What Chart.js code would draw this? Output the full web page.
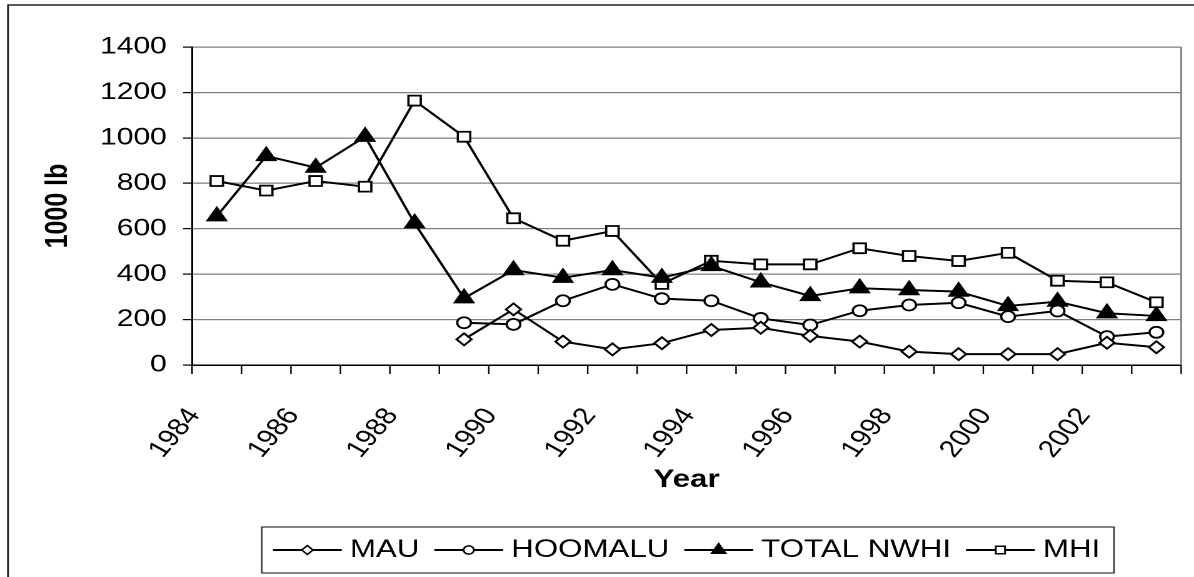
<!DOCTYPE html>
<html>
<head>
<meta charset="utf-8">
<title>Catch by area</title>
<script src="https://cdn.jsdelivr.net/npm/chart.js@4.4.1/dist/chart.umd.min.js"></script>
<style>
  html, body { margin: 0; padding: 0; background: #fff; overflow: hidden; }
  /* the reference picture is stretched sideways, so the chart is drawn narrow and scaled */
  #wrap { position: relative; width: 955px; height: 577px; transform: scaleX(1.2503); transform-origin: 0 0; }
</style>
</head>
<body>
<div id="wrap"><canvas id="catchChart"></canvas></div>
<script>
// Values (1000 lb)
const years = ['1984', '1985', '1986', '1987', '1988', '1989', '1990', '1991', '1992', '1993',
               '1994', '1995', '1996', '1997', '1998', '1999', '2000', '2001', '2002', '2003'];
const mau       = [null, null, null, null, null, 113, 245, 103, 69, 96, 154, 164, 128, 103, 59, 48, 48, 48, 98, 78];
const hoomalu   = [null, null, null, null, null, 186, 179, 283, 355, 292, 283, 205, 176, 239, 264, 274, 213, 238, 125, 144];
const totalNwhi = [655, 920, 869, 1005, 624, 294, 418, 384, 418, 384, 436, 364, 304, 338, 330, 323, 260, 279, 228, 216];
const mhi       = [810, 768, 810, 785, 1164, 1005, 646, 547, 590, 357, 459, 443, 443, 514, 480, 458, 494, 371, 364, 276];
const seriesNames = ['MAU', 'HOOMALU', 'TOTAL NWHI', 'MHI'];
const seriesData = [mau, hoomalu, totalNwhi, mhi];
const yMin = 0, yMax = 1400, yStep = 200;

const markerStyles = [
    { pointStyle: 'rectRot', radius: 6, fill: '#fff' },
    { pointStyle: 'circle', radius: 5.5, fill: '#fff' },
    { pointStyle: 'triangle', radius: 8.5, fill: '#000' },
    { pointStyle: 'rect', radius: 7, fill: '#fff' }
];

const FONT = "'Liberation Sans', Arial, sans-serif";

// white background + outer frame, plot edge and short x tick marks
const framePlugin = {
    id: 'frame',
    beforeDraw(chart) {
        const ctx = chart.ctx;
        ctx.save();
        ctx.fillStyle = '#fff';
        ctx.fillRect(0, 0, chart.width, chart.height);
        ctx.strokeStyle = '#222';
        ctx.lineWidth = 1.5;
        ctx.strokeRect(6.4, 5, chart.width + 20, chart.height + 20);
        ctx.restore();
    },
    beforeDatasetsDraw(chart) {
        const a = chart.chartArea, ctx = chart.ctx;
        const x = chart.scales.x;
        ctx.save();
        // right edge of the plot area
        ctx.strokeStyle = '#808080';
        ctx.lineWidth = 1.5;
        ctx.beginPath();
        ctx.moveTo(a.right, a.top);
        ctx.lineTo(a.right, a.bottom);
        ctx.stroke();
        // tick marks between the categories
        ctx.strokeStyle = '#000';
        ctx.lineWidth = 1.2;
        ctx.beginPath();
        for (let i = 0; i <= chart.data.labels.length; i++) {
            const px = x.getPixelForValue(i - 0.5);
            ctx.moveTo(px, a.bottom);
            ctx.lineTo(px, a.bottom + 9);
        }
        ctx.stroke();
        ctx.restore();
    }
};

// legend samples (line with marker) and the legend box
const legendPlugin = {
    id: 'legendSamples',
    afterDraw(chart) {
        const boxes = chart.legend && chart.legend.legendHitBoxes;
        if (!boxes || !boxes.length) return;
        const ctx = chart.ctx;
        ctx.save();
        boxes.forEach((b, i) => {
            const ds = chart.data.datasets[i];
            const cy = b.top + b.height / 2;
            ctx.strokeStyle = '#000';
            ctx.lineWidth = 2;
            ctx.beginPath();
            ctx.moveTo(b.left, cy);
            ctx.lineTo(b.left + 55, cy);
            ctx.stroke();
            ctx.fillStyle = ds.pointBackgroundColor;
            ctx.lineWidth = 1.5;
            Chart.helpers.drawPoint(ctx, {
                pointStyle: ds.pointStyle, radius: ds.pointRadius * 0.75, rotation: 0, borderWidth: 1.5
            }, b.left + 27.5, cy);
        });
        const first = boxes[0], last = boxes[boxes.length - 1];
        const cy = first.top + first.height / 2;
        const left = first.left - 9;
        const right = last.left + last.width + 11;
        ctx.strokeStyle = '#333';
        ctx.lineWidth = 1.2;
        ctx.strokeRect(left, cy - 23, right - left, 46);
        ctx.restore();
    }
};

const datasets = seriesNames.map((name, i) => ({
    label: name,
    data: seriesData[i],
    borderColor: '#000',
    borderWidth: 2,
    backgroundColor: markerStyles[i].fill,
    pointStyle: markerStyles[i].pointStyle,
    pointRadius: markerStyles[i].radius,
    pointBackgroundColor: markerStyles[i].fill,
    pointBorderColor: '#000',
    pointBorderWidth: 1.8,
    tension: 0,
    spanGaps: false
}));

new Chart(document.getElementById('catchChart'), {
    type: 'line',
    data: { labels: years, datasets: datasets },
    options: {
        responsive: true,
        maintainAspectRatio: false,
        animation: false,
        devicePixelRatio: 2,
        layout: { padding: { top: 47, left: 10, right: 9.4, bottom: 4.5 } },
        plugins: {
            tooltip: { enabled: false },
            legend: {
                position: 'bottom',
                align: 'center',
                fullSize: false,
                labels: {
                    usePointStyle: true,
                    pointStyleWidth: 49,
                    padding: 12,
                    color: '#000',
                    font: { family: FONT, size: 25 },
                    generateLabels: chart => chart.data.datasets.map((ds, i) => ({
                        text: ds.label,
                        fillStyle: 'rgba(0,0,0,0)',
                        strokeStyle: 'rgba(0,0,0,0)',
                        lineWidth: 0,
                        pointStyle: 'circle',
                        fontColor: '#000',
                        hidden: false,
                        datasetIndex: i
                    }))
                }
            }
        },
        scales: {
            x: {
                offset: true,
                afterFit: scale => { scale.height = 160.5; },
                // long invisible ticks push the labels down; short marks are drawn by the plugin
                grid: { offset: true, drawOnChartArea: false, drawTicks: true, tickLength: 38, tickColor: 'rgba(0,0,0,0)' },
                border: { color: '#000', width: 1.5 },
                ticks: {
                    autoSkip: false,
                    minRotation: 55,
                    maxRotation: 55,
                    padding: 0,
                    labelOffset: -18,
                    color: '#000',
                    font: { family: FONT, size: 24 },
                    callback: function (value, index) {
                        return index % 2 === 0 ? this.getLabelForValue(value) : '';
                    }
                },
                title: {
                    display: true,
                    text: 'Year',
                    color: '#000',
                    font: { family: FONT, size: 25, weight: 'bold' },
                    padding: { top: 4, bottom: 30.5 }
                }
            },
            y: {
                min: yMin,
                max: yMax,
                afterFit: scale => { scale.width = 143.6; },
                grid: { color: '#808080', lineWidth: 1.2, tickLength: 7.2, tickColor: '#000', tickWidth: 1.2 },
                border: { color: '#000', width: 1.5 },
                ticks: {
                    stepSize: yStep,
                    padding: 13,
                    color: '#000',
                    font: { family: FONT, size: 24 },
                    callback: value => String(value)
                },
                title: {
                    display: true,
                    text: '1000 lb',
                    color: '#000',
                    font: { family: FONT, size: 25, weight: 'bold' },
                    padding: { top: 21.4, bottom: 0 }
                }
            }
        }
    },
    plugins: [framePlugin, legendPlugin]
});
</script>
</body>
</html>
